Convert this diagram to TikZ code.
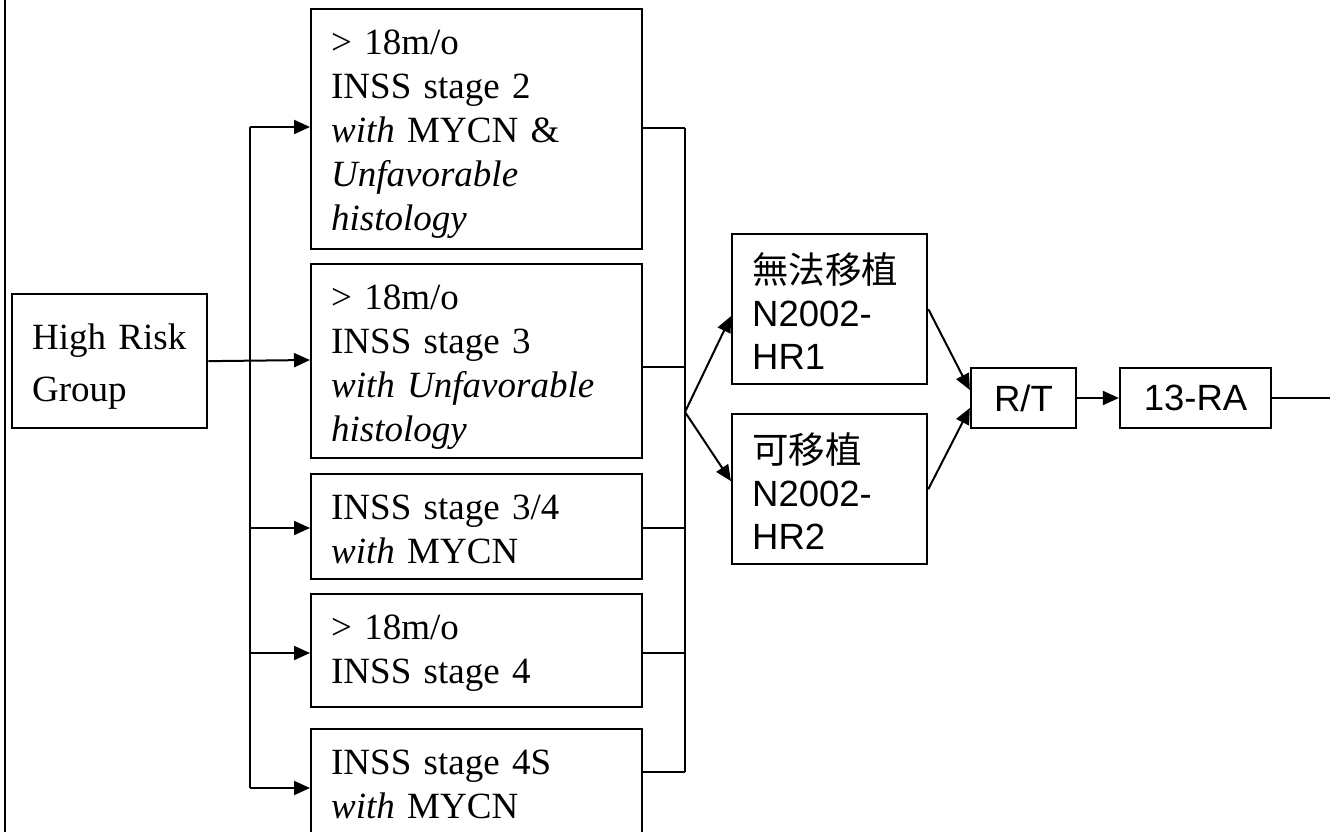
\documentclass[tikz,border=0pt]{standalone}
\usepackage{fontspec}
\setmainfont{Liberation Serif}
\newfontfamily\arial{Liberation Sans}
\newfontfamily\cjk{Noto Sans CJK TC}
\usetikzlibrary{arrows.meta,calc}

\tikzset{
  conn/.style={line width=2pt},
  arr/.style={conn, -{Triangle[length=16pt,width=14pt]}},
  riskbox/.style={draw, line width=2.3pt, anchor=north west, inner xsep=20pt, inner ysep=0pt,
    text width=291pt, align=left, text height=45.5pt,
    font=\fontsize{37}{44}\selectfont},
  groupbox/.style={draw, line width=2.3pt, anchor=north west, inner xsep=20pt, inner ysep=0pt,
    text width=155pt, align=left, text height=55pt, text depth=79pt,
    font=\fontsize{37}{52}\selectfont},
  planbox/.style={draw, line width=2.3pt, anchor=north west, inner xsep=20pt, inner ysep=0pt,
    text width=155pt, align=left, text height=49pt, text depth=101pt,
    font=\arial\fontsize{36.5}{43}\selectfont},
  stepbox/.style={draw, line width=2.3pt, inner sep=0pt, minimum height=60pt,
    font=\arial\fontsize{36.5}{43}\selectfont},
}

\begin{document}
\begin{tikzpicture}[x=1pt,y=-1pt]
\useasboundingbox (0,0) rectangle (1330,832);
\clip (0,0) rectangle (1330,832);

% page rule on the left
\draw[line width=1.8pt] (5,0) -- (5,832);

% entry group
\node[groupbox] (hrg) at (11,293) {High Risk\\Group};

% risk criteria
\node[riskbox, text depth=194.5pt] (b1) at (310,8)
  {> 18m/o\\INSS stage 2\\\textit{with} MYCN \&\\\textit{Unfavorable}\\\textit{histology}};
\node[riskbox, text depth=148.5pt] (b2) at (310,263)
  {> 18m/o\\INSS stage 3\\\textit{with Unfavorable}\\\textit{histology}};
\node[riskbox, text depth=59.5pt] (b3) at (310,473)
  {INSS stage 3/4\\\textit{with} MYCN};
\node[riskbox, text depth=67.5pt] (b4) at (310,593)
  {> 18m/o\\INSS stage 4};
\node[riskbox, text depth=74.5pt] (b5) at (310,728)
  {INSS stage 4S\\\textit{with} MYCN};

% treatment protocols
\node[planbox] (hr1) at (731,233) {{\cjk 無法移植}\\N2002-\\HR1};
\node[planbox] (hr2) at (731,413) {{\cjk 可移植}\\N2002-\\HR2};

\node[stepbox, minimum width=105pt] (rt) at (1023.5,398) {R/T};
\node[stepbox, minimum width=151pt] (ra) at (1195.5,398) {13-RA};

% inputs and outputs of the criteria boxes
\coordinate (b1in)  at ($(b1.north west)+(0,119)$);
\coordinate (b2in)  at ($(b2.north west)+(0,97)$);
\coordinate (b3in)  at ($(b3.north west)+(0,55)$);
\coordinate (b4in)  at ($(b4.north west)+(0,60)$);
\coordinate (b5in)  at ($(b5.north west)+(0,60)$);
\coordinate (b1out) at ($(b1.north east)+(0,120)$);
\coordinate (b2out) at ($(b2.north east)+(0,104)$);
\coordinate (b3out) at ($(b3.north east)+(0,55)$);
\coordinate (b4out) at ($(b4.north east)+(0,60)$);
\coordinate (b5out) at ($(b5.north east)+(0,44)$);

\coordinate (trunk) at (250,0);
\coordinate (spine) at (685,0);
\coordinate (join)  at (685,412);
\coordinate (exit)  at (1330,398);

% fan-out from the group
\draw[conn] (trunk |- b1in) -- (trunk |- b5in);
\draw[arr] (hrg.east) -- (b2in);
\foreach \b in {b1in,b3in,b4in,b5in}
  \draw[arr] (trunk |- \b) -- (\b);

% collection on the right
\draw[conn] (spine |- b1out) -- (spine |- b5out);
\foreach \b in {b1out,b2out,b3out,b4out,b5out}
  \draw[conn] (\b) -- (spine |- \b);

\draw[arr] (join) -- ($(hr1.west)+(0,7)$);
\draw[arr] (join) -- ($(hr2.west)+(0,-8)$);

\draw[arr] (hr1.east) -- ($(rt.west)+(0,-8)$);
\draw[arr] (hr2.east) -- ($(rt.west)+(0,10)$);

\draw[arr] (rt.east) -- (ra.west);
\draw[conn] (ra.east) -- (exit);
\end{tikzpicture}
\end{document}
